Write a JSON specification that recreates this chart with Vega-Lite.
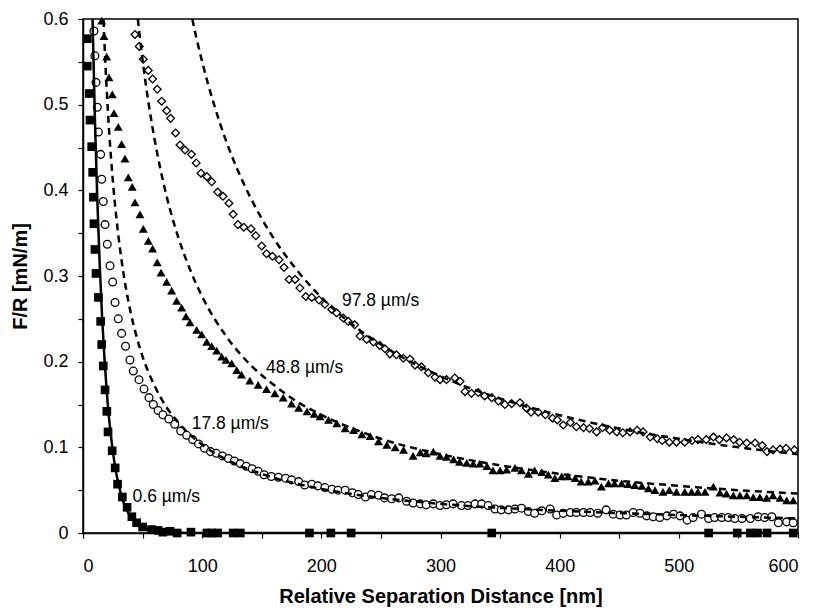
{
  "$schema": "https://vega.github.io/schema/vega-lite/v6.json",
  "width": 715,
  "height": 514,
  "autosize": {"type": "none"},
  "padding": {"left": 83, "top": 19, "right": 17, "bottom": 79},
  "background": "white",
  "config": {
    "view": {"stroke": "#000", "strokeWidth": 1.5},
    "font": "Liberation Sans",
    "axis": {
      "grid": false,
      "domainColor": "#000",
      "domainWidth": 1.5,
      "tickColor": "#000",
      "tickWidth": 1.2,
      "tickSize": 5,
      "labelColor": "#000",
      "labelFont": "Liberation Sans",
      "labelFontSize": 18,
      "titleFont": "Liberation Sans",
      "titleFontSize": 20,
      "titleFontWeight": "bold",
      "titleColor": "#000"
    }
  },
  "datasets": {
    "pts": [
      {"s":"0.6","x":3.6,"y":0.577},{"s":"0.6","x":3.6,"y":0.545},{"s":"0.6","x":5.3,"y":0.513},{"s":"0.6","x":5.9,"y":0.482},{"s":"0.6","x":7.3,"y":0.451},{"s":"0.6","x":8.1,"y":0.421},{"s":"0.6","x":8.7,"y":0.392},{"s":"0.6","x":9.2,"y":0.361},{"s":"0.6","x":10,"y":0.331},{"s":"0.6","x":10.9,"y":0.303},{"s":"0.6","x":12.9,"y":0.275},{"s":"0.6","x":14.8,"y":0.247},{"s":"0.6","x":15.7,"y":0.22},{"s":"0.6","x":17,"y":0.195},{"s":"0.6","x":18.5,"y":0.167},{"s":"0.6","x":20,"y":0.142},{"s":"0.6","x":21,"y":0.118},{"s":"0.6","x":24.5,"y":0.096},{"s":"0.6","x":27,"y":0.076},{"s":"0.6","x":29,"y":0.057},{"s":"0.6","x":33,"y":0.042},{"s":"0.6","x":37,"y":0.03},{"s":"0.6","x":41,"y":0.019},{"s":"0.6","x":45,"y":0.012},{"s":"0.6","x":50,"y":0.007},{"s":"0.6","x":57.5,"y":0.004},{"s":"0.6","x":63,"y":0.003},{"s":"0.6","x":67,"y":0.001},{"s":"0.6","x":73,"y":0.002},{"s":"0.6","x":79,"y":0},{"s":"0.6","x":90.6,"y":0.001},{"s":"0.6","x":104,"y":0},{"s":"0.6","x":108,"y":0},{"s":"0.6","x":113,"y":0},{"s":"0.6","x":126,"y":0},{"s":"0.6","x":132,"y":0},{"s":"0.6","x":190,"y":0},{"s":"0.6","x":208,"y":0},{"s":"0.6","x":225,"y":0},{"s":"0.6","x":343,"y":0},{"s":"0.6","x":525,"y":0},{"s":"0.6","x":549,"y":0},{"s":"0.6","x":560,"y":0},{"s":"0.6","x":566,"y":0},{"s":"0.6","x":574,"y":0},{"s":"0.6","x":596,"y":0},

      {"s":"17.8","x":9.2,"y":0.586},{"s":"17.8","x":10,"y":0.557},{"s":"17.8","x":10.9,"y":0.526},{"s":"17.8","x":12,"y":0.497},{"s":"17.8","x":12.9,"y":0.468},{"s":"17.8","x":14.8,"y":0.442},{"s":"17.8","x":15.7,"y":0.413},{"s":"17.8","x":17,"y":0.387},{"s":"17.8","x":18.5,"y":0.36},{"s":"17.8","x":20.4,"y":0.337},{"s":"17.8","x":22.7,"y":0.312},{"s":"17.8","x":24.9,"y":0.293},{"s":"17.8","x":26.9,"y":0.269},{"s":"17.8","x":29.6,"y":0.25},{"s":"17.8","x":32.4,"y":0.233},{"s":"17.8","x":35.7,"y":0.218},{"s":"17.8","x":39.4,"y":0.202},{"s":"17.8","x":42.2,"y":0.189},{"s":"17.8","x":47,"y":0.179},{"s":"17.8","x":51.2,"y":0.168},{"s":"17.8","x":55.4,"y":0.158},{"s":"17.8","x":59,"y":0.15},{"s":"17.8","x":63,"y":0.143},{"s":"17.8","x":67,"y":0.138},{"s":"17.8","x":72,"y":0.133},{"s":"17.8","x":77,"y":0.127},{"s":"17.8","x":82,"y":0.119},{"s":"17.8","x":87,"y":0.114},{"s":"17.8","x":92,"y":0.109},{"s":"17.8","x":97,"y":0.104},{"s":"17.8","x":102,"y":0.099},{"s":"17.8","x":107,"y":0.095},{"s":"17.8","x":112,"y":0.093},{"s":"17.8","x":117,"y":0.09},{"s":"17.8","x":122,"y":0.087},{"s":"17.8","x":127,"y":0.084},{"s":"17.8","x":132,"y":0.081},{"s":"17.8","x":137,"y":0.078},{"s":"17.8","x":142,"y":0.075},{"s":"17.8","x":147,"y":0.072},{"s":"17.8","x":152,"y":0.068},{"s":"17.8","x":158,"y":0.066},{"s":"17.8","x":164,"y":0.065},{"s":"17.8","x":170,"y":0.064},{"s":"17.8","x":175,"y":0.062},{"s":"17.8","x":181,"y":0.06},{"s":"17.8","x":186,"y":0.056},{"s":"17.8","x":192,"y":0.057},{"s":"17.8","x":197,"y":0.055},{"s":"17.8","x":203,"y":0.053},{"s":"17.8","x":209,"y":0.051},{"s":"17.8","x":214,"y":0.05},{"s":"17.8","x":220,"y":0.05},{"s":"17.8","x":226,"y":0.047},{"s":"17.8","x":231,"y":0.045},{"s":"17.8","x":237,"y":0.042},{"s":"17.8","x":242,"y":0.045},{"s":"17.8","x":248,"y":0.044},{"s":"17.8","x":253,"y":0.041},{"s":"17.8","x":259,"y":0.04},{"s":"17.8","x":265,"y":0.041},{"s":"17.8","x":271.6,"y":0.037},{"s":"17.8","x":277,"y":0.035},{"s":"17.8","x":283,"y":0.034},{"s":"17.8","x":288,"y":0.033},{"s":"17.8","x":294,"y":0.034},{"s":"17.8","x":299.6,"y":0.032},{"s":"17.8","x":305,"y":0.033},{"s":"17.8","x":310.6,"y":0.034},{"s":"17.8","x":317.6,"y":0.032},{"s":"17.8","x":323,"y":0.032},{"s":"17.8","x":329,"y":0.034},{"s":"17.8","x":334.5,"y":0.034},{"s":"17.8","x":340,"y":0.032},{"s":"17.8","x":345.7,"y":0.028},{"s":"17.8","x":351,"y":0.027},{"s":"17.8","x":357,"y":0.027},{"s":"17.8","x":362.5,"y":0.028},{"s":"17.8","x":368,"y":0.029},{"s":"17.8","x":373.7,"y":0.025},{"s":"17.8","x":379,"y":0.023},{"s":"17.8","x":385,"y":0.026},{"s":"17.8","x":392,"y":0.028},{"s":"17.8","x":397.5,"y":0.021},{"s":"17.8","x":403,"y":0.023},{"s":"17.8","x":409,"y":0.024},{"s":"17.8","x":414,"y":0.024},{"s":"17.8","x":420,"y":0.024},{"s":"17.8","x":425.5,"y":0.024},{"s":"17.8","x":432,"y":0.023},{"s":"17.8","x":439,"y":0.027},{"s":"17.8","x":445,"y":0.022},{"s":"17.8","x":450.6,"y":0.021},{"s":"17.8","x":456,"y":0.021},{"s":"17.8","x":461.7,"y":0.024},{"s":"17.8","x":467.4,"y":0.023},{"s":"17.8","x":473,"y":0.02},{"s":"17.8","x":478.5,"y":0.019},{"s":"17.8","x":484,"y":0.018},{"s":"17.8","x":490,"y":0.02},{"s":"17.8","x":495.6,"y":0.022},{"s":"17.8","x":501,"y":0.02},{"s":"17.8","x":507,"y":0.015},{"s":"17.8","x":512,"y":0.018},{"s":"17.8","x":519,"y":0.022},{"s":"17.8","x":525,"y":0.017},{"s":"17.8","x":530,"y":0.018},{"s":"17.8","x":536,"y":0.018},{"s":"17.8","x":541.5,"y":0.018},{"s":"17.8","x":547,"y":0.017},{"s":"17.8","x":553,"y":0.017},{"s":"17.8","x":560,"y":0.017},{"s":"17.8","x":566.6,"y":0.019},{"s":"17.8","x":572,"y":0.018},{"s":"17.8","x":578,"y":0.019},{"s":"17.8","x":583.5,"y":0.012},{"s":"17.8","x":590.5,"y":0.013},{"s":"17.8","x":596,"y":0.012},

      {"s":"48.8","x":15.7,"y":0.598},{"s":"48.8","x":17.6,"y":0.58},{"s":"48.8","x":19.9,"y":0.556},{"s":"48.8","x":21.8,"y":0.532},{"s":"48.8","x":24.6,"y":0.512},{"s":"48.8","x":26,"y":0.49},{"s":"48.8","x":29.6,"y":0.474},{"s":"48.8","x":32.4,"y":0.454},{"s":"48.8","x":35.2,"y":0.437},{"s":"48.8","x":38,"y":0.415},{"s":"48.8","x":41.3,"y":0.404},{"s":"48.8","x":43.6,"y":0.386},{"s":"48.8","x":47.8,"y":0.372},{"s":"48.8","x":50.6,"y":0.355},{"s":"48.8","x":54.8,"y":0.341},{"s":"48.8","x":58.4,"y":0.332},{"s":"48.8","x":62.3,"y":0.316},{"s":"48.8","x":65.5,"y":0.304},{"s":"48.8","x":70.2,"y":0.293},{"s":"48.8","x":74.4,"y":0.283},{"s":"48.8","x":78.6,"y":0.271},{"s":"48.8","x":82.8,"y":0.263},{"s":"48.8","x":86.4,"y":0.253},{"s":"48.8","x":89.8,"y":0.246},{"s":"48.8","x":95.4,"y":0.237},{"s":"48.8","x":99.6,"y":0.232},{"s":"48.8","x":103.8,"y":0.223},{"s":"48.8","x":108,"y":0.218},{"s":"48.8","x":112.2,"y":0.213},{"s":"48.8","x":116.4,"y":0.206},{"s":"48.8","x":120,"y":0.202},{"s":"48.8","x":124.8,"y":0.198},{"s":"48.8","x":129,"y":0.19},{"s":"48.8","x":133,"y":0.185},{"s":"48.8","x":140,"y":0.178},{"s":"48.8","x":147,"y":0.173},{"s":"48.8","x":154,"y":0.168},{"s":"48.8","x":161,"y":0.163},{"s":"48.8","x":168,"y":0.158},{"s":"48.8","x":175,"y":0.151},{"s":"48.8","x":181,"y":0.146},{"s":"48.8","x":188,"y":0.142},{"s":"48.8","x":194,"y":0.139},{"s":"48.8","x":199,"y":0.136},{"s":"48.8","x":206,"y":0.132},{"s":"48.8","x":213,"y":0.128},{"s":"48.8","x":220,"y":0.122},{"s":"48.8","x":227,"y":0.12},{"s":"48.8","x":234,"y":0.115},{"s":"48.8","x":241,"y":0.113},{"s":"48.8","x":248,"y":0.107},{"s":"48.8","x":255,"y":0.103},{"s":"48.8","x":262,"y":0.1},{"s":"48.8","x":269,"y":0.097},{"s":"48.8","x":277,"y":0.09},{"s":"48.8","x":283,"y":0.094},{"s":"48.8","x":288,"y":0.093},{"s":"48.8","x":294,"y":0.095},{"s":"48.8","x":299.6,"y":0.09},{"s":"48.8","x":305,"y":0.089},{"s":"48.8","x":311,"y":0.086},{"s":"48.8","x":316,"y":0.083},{"s":"48.8","x":322,"y":0.082},{"s":"48.8","x":327.5,"y":0.081},{"s":"48.8","x":333,"y":0.081},{"s":"48.8","x":339,"y":0.078},{"s":"48.8","x":344,"y":0.073},{"s":"48.8","x":350,"y":0.073},{"s":"48.8","x":355.5,"y":0.074},{"s":"48.8","x":362.5,"y":0.076},{"s":"48.8","x":368,"y":0.073},{"s":"48.8","x":373.7,"y":0.069},{"s":"48.8","x":379,"y":0.073},{"s":"48.8","x":385,"y":0.071},{"s":"48.8","x":390.5,"y":0.068},{"s":"48.8","x":396,"y":0.064},{"s":"48.8","x":401.7,"y":0.066},{"s":"48.8","x":407,"y":0.066},{"s":"48.8","x":413,"y":0.064},{"s":"48.8","x":418,"y":0.06},{"s":"48.8","x":424,"y":0.06},{"s":"48.8","x":429.6,"y":0.061},{"s":"48.8","x":435,"y":0.054},{"s":"48.8","x":441,"y":0.058},{"s":"48.8","x":446,"y":0.058},{"s":"48.8","x":452,"y":0.058},{"s":"48.8","x":457.5,"y":0.057},{"s":"48.8","x":463,"y":0.056},{"s":"48.8","x":469,"y":0.055},{"s":"48.8","x":474.5,"y":0.052},{"s":"48.8","x":480,"y":0.05},{"s":"48.8","x":486.7,"y":0.048},{"s":"48.8","x":492,"y":0.05},{"s":"48.8","x":498,"y":0.048},{"s":"48.8","x":505,"y":0.048},{"s":"48.8","x":510.7,"y":0.048},{"s":"48.8","x":516,"y":0.048},{"s":"48.8","x":522,"y":0.048},{"s":"48.8","x":529,"y":0.054},{"s":"48.8","x":534.5,"y":0.047},{"s":"48.8","x":540,"y":0.046},{"s":"48.8","x":545.7,"y":0.044},{"s":"48.8","x":551.3,"y":0.044},{"s":"48.8","x":557,"y":0.044},{"s":"48.8","x":562.5,"y":0.042},{"s":"48.8","x":568,"y":0.042},{"s":"48.8","x":573.7,"y":0.041},{"s":"48.8","x":579,"y":0.044},{"s":"48.8","x":585,"y":0.041},{"s":"48.8","x":590.5,"y":0.038},{"s":"48.8","x":596,"y":0.038},

      {"s":"97.8","x":43.6,"y":0.582},{"s":"97.8","x":47.2,"y":0.568},{"s":"97.8","x":50.6,"y":0.553},{"s":"97.8","x":54.8,"y":0.54},{"s":"97.8","x":58.4,"y":0.53},{"s":"97.8","x":62.3,"y":0.518},{"s":"97.8","x":66,"y":0.504},{"s":"97.8","x":70.2,"y":0.493},{"s":"97.8","x":73.5,"y":0.484},{"s":"97.8","x":77.7,"y":0.467},{"s":"97.8","x":81.4,"y":0.453},{"s":"97.8","x":85.6,"y":0.447},{"s":"97.8","x":91,"y":0.442},{"s":"97.8","x":95,"y":0.432},{"s":"97.8","x":99,"y":0.42},{"s":"97.8","x":104,"y":0.416},{"s":"97.8","x":108,"y":0.41},{"s":"97.8","x":113,"y":0.398},{"s":"97.8","x":117.5,"y":0.393},{"s":"97.8","x":122.5,"y":0.385},{"s":"97.8","x":126,"y":0.372},{"s":"97.8","x":130,"y":0.36},{"s":"97.8","x":135,"y":0.357},{"s":"97.8","x":141,"y":0.355},{"s":"97.8","x":145,"y":0.347},{"s":"97.8","x":150,"y":0.335},{"s":"97.8","x":154,"y":0.326},{"s":"97.8","x":159,"y":0.323},{"s":"97.8","x":164.5,"y":0.319},{"s":"97.8","x":168.7,"y":0.31},{"s":"97.8","x":173,"y":0.296},{"s":"97.8","x":178,"y":0.296},{"s":"97.8","x":182,"y":0.286},{"s":"97.8","x":187,"y":0.276},{"s":"97.8","x":192,"y":0.275},{"s":"97.8","x":198,"y":0.272},{"s":"97.8","x":203,"y":0.267},{"s":"97.8","x":208.7,"y":0.261},{"s":"97.8","x":212.8,"y":0.257},{"s":"97.8","x":218.4,"y":0.251},{"s":"97.8","x":222.6,"y":0.247},{"s":"97.8","x":228,"y":0.243},{"s":"97.8","x":232.4,"y":0.23},{"s":"97.8","x":238,"y":0.226},{"s":"97.8","x":243.6,"y":0.223},{"s":"97.8","x":249,"y":0.219},{"s":"97.8","x":253.4,"y":0.215},{"s":"97.8","x":257.6,"y":0.209},{"s":"97.8","x":263,"y":0.208},{"s":"97.8","x":268.8,"y":0.204},{"s":"97.8","x":274.4,"y":0.203},{"s":"97.8","x":278.6,"y":0.196},{"s":"97.8","x":284,"y":0.194},{"s":"97.8","x":289.7,"y":0.187},{"s":"97.8","x":295.4,"y":0.182},{"s":"97.8","x":299.6,"y":0.179},{"s":"97.8","x":305,"y":0.179},{"s":"97.8","x":312,"y":0.181},{"s":"97.8","x":316.4,"y":0.177},{"s":"97.8","x":320.6,"y":0.165},{"s":"97.8","x":326,"y":0.163},{"s":"97.8","x":331.7,"y":0.164},{"s":"97.8","x":337,"y":0.16},{"s":"97.8","x":343,"y":0.158},{"s":"97.8","x":348.6,"y":0.154},{"s":"97.8","x":354,"y":0.15},{"s":"97.8","x":359.7,"y":0.151},{"s":"97.8","x":366.7,"y":0.152},{"s":"97.8","x":372,"y":0.146},{"s":"97.8","x":376,"y":0.141},{"s":"97.8","x":382,"y":0.141},{"s":"97.8","x":388,"y":0.138},{"s":"97.8","x":394,"y":0.134},{"s":"97.8","x":398,"y":0.132},{"s":"97.8","x":403,"y":0.126},{"s":"97.8","x":409,"y":0.129},{"s":"97.8","x":414,"y":0.124},{"s":"97.8","x":420,"y":0.123},{"s":"97.8","x":425,"y":0.122},{"s":"97.8","x":431,"y":0.118},{"s":"97.8","x":436,"y":0.123},{"s":"97.8","x":442,"y":0.12},{"s":"97.8","x":448,"y":0.118},{"s":"97.8","x":453,"y":0.117},{"s":"97.8","x":459,"y":0.118},{"s":"97.8","x":465,"y":0.12},{"s":"97.8","x":470,"y":0.118},{"s":"97.8","x":476,"y":0.112},{"s":"97.8","x":482,"y":0.11},{"s":"97.8","x":486,"y":0.108},{"s":"97.8","x":492,"y":0.106},{"s":"97.8","x":498,"y":0.106},{"s":"97.8","x":505,"y":0.106},{"s":"97.8","x":511,"y":0.108},{"s":"97.8","x":516,"y":0.109},{"s":"97.8","x":523,"y":0.109},{"s":"97.8","x":529,"y":0.112},{"s":"97.8","x":534,"y":0.109},{"s":"97.8","x":540,"y":0.111},{"s":"97.8","x":546,"y":0.109},{"s":"97.8","x":551,"y":0.106},{"s":"97.8","x":557,"y":0.105},{"s":"97.8","x":564,"y":0.105},{"s":"97.8","x":570,"y":0.102},{"s":"97.8","x":574,"y":0.095},{"s":"97.8","x":579,"y":0.097},{"s":"97.8","x":585,"y":0.098},{"s":"97.8","x":590,"y":0.099},{"s":"97.8","x":597,"y":0.097}
    ],
    "fits": [
      {"s":"0.6","x":8,"y":0.6},{"s":"0.6","x":10,"y":0.483},{"s":"0.6","x":12,"y":0.39},{"s":"0.6","x":14,"y":0.314},{"s":"0.6","x":16,"y":0.253},{"s":"0.6","x":18,"y":0.204},{"s":"0.6","x":20,"y":0.164},{"s":"0.6","x":22,"y":0.132},{"s":"0.6","x":24,"y":0.107},{"s":"0.6","x":26,"y":0.086},{"s":"0.6","x":28,"y":0.069},{"s":"0.6","x":30,"y":0.056},{"s":"0.6","x":33,"y":0.04},{"s":"0.6","x":36,"y":0.029},{"s":"0.6","x":40,"y":0.019},{"s":"0.6","x":45,"y":0.011},{"s":"0.6","x":50,"y":0.0066},{"s":"0.6","x":55,"y":0.0039},{"s":"0.6","x":60,"y":0.0023},{"s":"0.6","x":70,"y":0.0008},{"s":"0.6","x":80,"y":0.0003},{"s":"0.6","x":100,"y":0},{"s":"0.6","x":600,"y":0},
      {"s":"17.8","x":17.2,"y":0.599},{"s":"17.8","x":18,"y":0.572},{"s":"17.8","x":20,"y":0.515},{"s":"17.8","x":22,"y":0.468},{"s":"17.8","x":25,"y":0.412},{"s":"17.8","x":28,"y":0.368},{"s":"17.8","x":32,"y":0.322},{"s":"17.8","x":36,"y":0.286},{"s":"17.8","x":40,"y":0.2575},{"s":"17.8","x":45,"y":0.229},{"s":"17.8","x":50,"y":0.206},{"s":"17.8","x":60,"y":0.172},{"s":"17.8","x":70,"y":0.147},{"s":"17.8","x":80,"y":0.129},{"s":"17.8","x":100,"y":0.103},{"s":"17.8","x":120,"y":0.086},{"s":"17.8","x":150,"y":0.069},{"s":"17.8","x":200,"y":0.0515},{"s":"17.8","x":250,"y":0.041},{"s":"17.8","x":300,"y":0.034},{"s":"17.8","x":400,"y":0.026},{"s":"17.8","x":500,"y":0.021},{"s":"17.8","x":600,"y":0.017},
      {"s":"48.8","x":46,"y":0.6},{"s":"48.8","x":50,"y":0.552},{"s":"48.8","x":55,"y":0.502},{"s":"48.8","x":60,"y":0.46},{"s":"48.8","x":70,"y":0.394},{"s":"48.8","x":80,"y":0.345},{"s":"48.8","x":90,"y":0.307},{"s":"48.8","x":100,"y":0.276},{"s":"48.8","x":120,"y":0.23},{"s":"48.8","x":140,"y":0.197},{"s":"48.8","x":160,"y":0.173},{"s":"48.8","x":180,"y":0.153},{"s":"48.8","x":200,"y":0.138},{"s":"48.8","x":250,"y":0.11},{"s":"48.8","x":300,"y":0.092},{"s":"48.8","x":350,"y":0.079},{"s":"48.8","x":400,"y":0.069},{"s":"48.8","x":450,"y":0.061},{"s":"48.8","x":500,"y":0.055},{"s":"48.8","x":550,"y":0.05},{"s":"48.8","x":600,"y":0.046},
      {"s":"97.8","x":91.7,"y":0.6},{"s":"97.8","x":95,"y":0.579},{"s":"97.8","x":100,"y":0.55},{"s":"97.8","x":110,"y":0.5},{"s":"97.8","x":120,"y":0.458},{"s":"97.8","x":130,"y":0.423},{"s":"97.8","x":140,"y":0.393},{"s":"97.8","x":150,"y":0.367},{"s":"97.8","x":160,"y":0.344},{"s":"97.8","x":180,"y":0.306},{"s":"97.8","x":200,"y":0.275},{"s":"97.8","x":220,"y":0.25},{"s":"97.8","x":250,"y":0.22},{"s":"97.8","x":300,"y":0.183},{"s":"97.8","x":350,"y":0.157},{"s":"97.8","x":400,"y":0.1375},{"s":"97.8","x":450,"y":0.122},{"s":"97.8","x":500,"y":0.11},{"s":"97.8","x":550,"y":0.1},{"s":"97.8","x":600,"y":0.092}
    ],
    "labels": [
      {"x":217.3,"y":0.2713,"t":"97.8 µm/s"},
      {"x":153.6,"y":0.1924,"t":"48.8 µm/s"},
      {"x":91.2,"y":0.1275,"t":"17.8 µm/s"},
      {"x":41.6,"y":0.0425,"t":"0.6 µm/s"}
    ]
  },
  "encoding": {
    "x": {
      "field": "x", "type": "quantitative",
      "scale": {"domain": [0, 600], "nice": false, "zero": false},
      "axis": {
        "title": "Relative Separation Distance [nm]",
        "values": [0,50,100,150,200,250,300,350,400,450,500,550,600],
        "labelExpr": "datum.value % 100 === 0 ? datum.label : ''",
        "format": "d",
        "labelPadding": 19,
        "titlePadding": 11
      }
    },
    "y": {
      "field": "y", "type": "quantitative",
      "scale": {"domain": [0, 0.6], "nice": false},
      "axis": {
        "title": "F/R [mN/m]",
        "values": [0,0.05,0.1,0.15,0.2,0.25,0.3,0.35,0.4,0.45,0.5,0.55,0.6],
        "labelExpr": "round(datum.value*100) % 10 === 0 ? datum.label : ''",
        "format": ".2~f",
        "labelPadding": 10,
        "titlePadding": 12
      }
    }
  },
  "layer": [
    {
      "data": {"name": "pts"},
      "transform": [{"filter": "datum.s === '0.6'"}],
      "mark": {"type": "point", "shape": "square", "filled": true, "color": "#000", "size": 75, "opacity": 1}
    },
    {
      "data": {"name": "pts"},
      "transform": [{"filter": "datum.s === '17.8'"}],
      "mark": {"type": "point", "shape": "circle", "filled": false, "color": "#000", "fill": "white", "fillOpacity": 1, "strokeWidth": 1.3, "size": 60, "opacity": 1}
    },
    {
      "data": {"name": "pts"},
      "transform": [{"filter": "datum.s === '48.8'"}],
      "mark": {"type": "point", "shape": "triangle-up", "filled": true, "color": "#000", "size": 80, "opacity": 1}
    },
    {
      "data": {"name": "pts"},
      "transform": [{"filter": "datum.s === '97.8'"}],
      "mark": {"type": "point", "shape": "diamond", "filled": false, "color": "#000", "fill": "white", "fillOpacity": 1, "strokeWidth": 1.3, "size": 60, "opacity": 1}
    },
    {
      "data": {"name": "fits"},
      "transform": [{"filter": "datum.s === '0.6'"}],
      "mark": {"type": "line", "color": "#000", "strokeWidth": 2.5, "interpolate": "monotone", "clip": true}
    },
    {
      "data": {"name": "fits"},
      "transform": [{"filter": "datum.s !== '0.6'"}],
      "mark": {"type": "line", "color": "#000", "strokeWidth": 2.5, "strokeDash": [7, 5], "interpolate": "monotone", "clip": true},
      "encoding": {"detail": {"field": "s"}}
    },
    {
      "data": {"name": "labels"},
      "mark": {"type": "text", "align": "left", "baseline": "middle", "fontSize": 17.5, "font": "Liberation Sans", "color": "#000"},
      "encoding": {"text": {"field": "t"}}
    }
  ]
}
